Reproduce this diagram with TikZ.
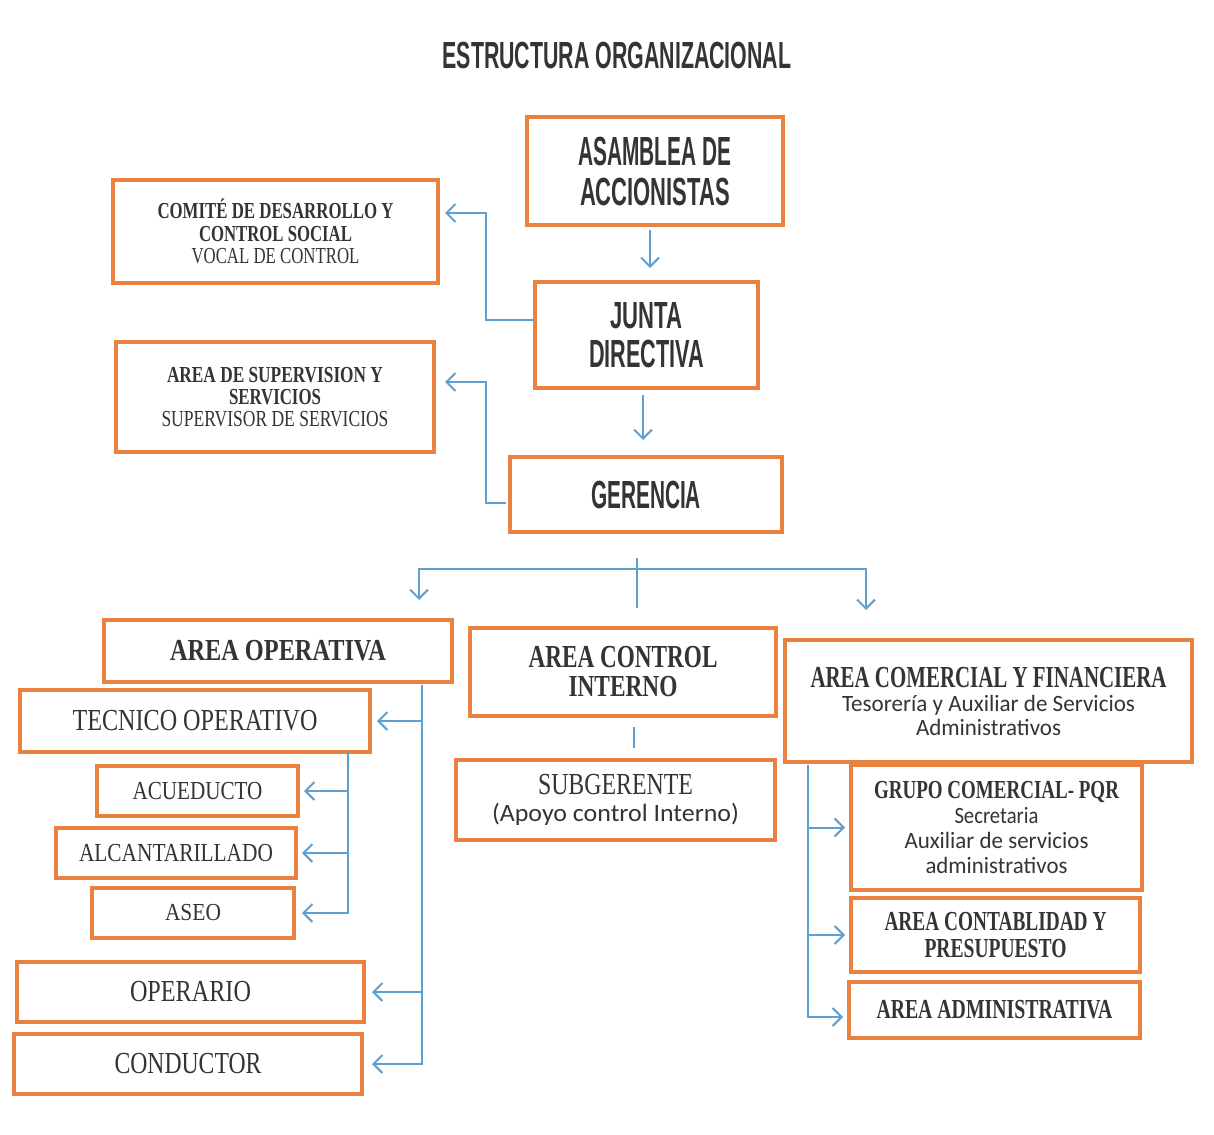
\documentclass[tikz,border=0pt]{standalone}
\usepackage{fontspec}
\usepackage{graphicx}
\setmainfont{Liberation Serif}
\newfontfamily\calfont{Carlito}
\newfontfamily\agencyfont{Liberation Sans}
\usetikzlibrary{arrows.meta,calc}
\definecolor{boxorange}{RGB}{232,130,62}
\definecolor{linkblue}{RGB}{96,160,208}
\definecolor{ink}{RGB}{52,52,52}
% \fitbox[font]{width}{cap height}{text}
\newcommand\fitbox[4][]{%
  \setbox0\hbox{#1#4}\setbox2\hbox{#1H}%
  \pgfmathsetmacro\fbx{#2/\the\wd0}%
  \pgfmathsetmacro\fby{#3/\the\ht2}%
  \scalebox{\fbx}[\fby]{#1#4}}
\begin{document}
\begin{tikzpicture}[x=1pt,y=-1pt,
  box/.style={draw=boxorange, line width=4pt, fill=white, inner sep=0pt, align=center, text=ink},
  headbox/.style={box, font=\agencyfont\bfseries\fontsize{10}{#1}\selectfont},
  serbox/.style={box, font=\fontsize{10}{#1}\selectfont},
  link/.style={draw=linkblue, line width=2pt},
  arr/.style={link, -{Straight Barb[length=9pt,width=18pt]}}]
\useasboundingbox[fill=white] (0,0) rectangle (1214,1134);

\node[text=ink, font=\agencyfont\bfseries] (title) at (617,55) {\fitbox{349}{26}{ESTRUCTURA ORGANIZACIONAL}};

% top levels
\node[headbox=40, minimum width=256pt, minimum height=108pt] (asam) at (655,171)
  {\fitbox{153}{28}{ASAMBLEA DE}\\\fitbox{150}{27}{ACCIONISTAS}};
\node[headbox=39, minimum width=223pt, minimum height=106pt] (junta) at (646.5,335)
  {\fitbox{72}{26}{JUNTA}\\\fitbox{115}{27}{DIRECTIVA}};
\node[headbox=30, minimum width=272pt, minimum height=75pt] (ger) at (646,494.5)
  {\fitbox{110}{27}{GERENCIA}};

% staff boxes
\node[serbox=22.5, minimum width=325pt, minimum height=103pt] (comite) at (275.5,231.5)
  {\fitbox[\bfseries]{236}{15}{COMITÉ DE DESARROLLO Y}\\\fitbox[\bfseries]{153}{15}{CONTROL SOCIAL}\\\fitbox{168}{15}{VOCAL DE CONTROL}};
\node[serbox=22, minimum width=318pt, minimum height=110pt] (superv) at (275,397)
  {\fitbox[\bfseries]{216}{15}{AREA DE SUPERVISION Y}\\\fitbox[\bfseries]{92}{15}{SERVICIOS}\\\fitbox{227}{15}{SUPERVISOR DE SERVICIOS}};

% areas
\node[serbox=24, minimum width=348pt, minimum height=62pt] (aop) at (278,651)
  {\fitbox[\bfseries]{216}{20}{AREA OPERATIVA}};
\node[serbox=29, minimum width=306pt, minimum height=88pt] (aci) at (623,672)
  {\fitbox[\bfseries]{189}{21}{AREA CONTROL}\\\fitbox[\bfseries]{109}{20}{INTERNO}};
\node[serbox=24, minimum width=407pt, minimum height=122pt] (acf) at (988.5,701)
  {\fitbox[\bfseries]{356}{20}{AREA COMERCIAL Y FINANCIERA}\\\fitbox[\calfont]{293}{15}{Tesorería y Auxiliar de Servicios}\\\fitbox[\calfont]{145}{15}{Administrativos}};

% operativa children
\node[serbox=24, minimum width=350pt, minimum height=62pt] (tec) at (195,721) {\fitbox{245}{20}{TECNICO OPERATIVO}};
\node[serbox=24, minimum width=201pt, minimum height=50pt] (acu) at (197.5,791) {\fitbox{130}{17}{ACUEDUCTO}};
\node[serbox=24, minimum width=240pt, minimum height=50pt] (alc) at (176,853) {\fitbox{194}{17}{ALCANTARILLADO}};
\node[serbox=24, minimum width=202pt, minimum height=50pt] (aseo) at (193,913) {\fitbox{56}{16}{ASEO}};
\node[serbox=24, minimum width=347pt, minimum height=60pt] (oper) at (190.5,992) {\fitbox{121}{20}{OPERARIO}};
\node[serbox=24, minimum width=348pt, minimum height=60pt] (cond) at (188,1064) {\fitbox{147}{20}{CONDUCTOR}};

% control interno child
\node[serbox=27, minimum width=319pt, minimum height=80pt] (sub) at (615.5,800)
  {\fitbox{155}{20}{SUBGERENTE}\\\fitbox[\calfont]{247}{16}{(Apoyo control Interno)}};

% comercial children
\node[serbox=25, minimum width=291pt, minimum height=125pt] (gcom) at (996.5,827.5)
  {\fitbox[\bfseries]{245}{17}{GRUPO COMERCIAL- PQR}\\\fitbox[\calfont]{84}{15}{Secretaria}\\\fitbox[\calfont]{184}{15}{Auxiliar de servicios}\\\fitbox[\calfont]{142}{15}{administrativos}};
\node[serbox=27, minimum width=289pt, minimum height=74pt] (acon) at (995.5,935)
  {\fitbox[\bfseries]{222}{18}{AREA CONTABLIDAD Y}\\\fitbox[\bfseries]{142}{18}{PRESUPUESTO}};
\node[serbox=24, minimum width=291pt, minimum height=56pt] (aadm) at (994.5,1010)
  {\fitbox[\bfseries]{236}{18}{AREA ADMINISTRATIVA}};

% connectors: top chain
\draw[arr] ($(asam.south)+(-5,3)$) -- ($(asam.south |- junta.north)+(-5,-12)$);
\draw[arr] ($(junta.south)+(-3.5,5)$) -- ($(junta.south |- ger.north)+(-3.5,-15)$);
\draw[arr] ($(junta.west)+(0,-15)$) -- ++(-47,0) |- ($(comite.east)+(5,-18.5)$);
\draw[arr] ($(ger.west)+(-2,8.5)$) -- ++(-20,0) |- ($(superv.east)+(9,-15)$);

% distribution under gerencia
\coordinate (hub) at (637,569);
\coordinate (hubtop) at (637,558);
\coordinate (hubbot) at (637,608);
\coordinate (opdrop) at (419,600);
\coordinate (cfdrop) at (866,610);
\draw[link] (hubtop) -- (hubbot);
\draw[arr] (hub) -| (opdrop);
\draw[arr] (hub) -| (cfdrop);

% control interno -> subgerente
\draw[link] ($(aci.south)+(11,9)$) -- ($(aci.south |- sub.north)+(11,-10)$);

% operativa tree
\coordinate (optop) at (422,685);
\coordinate (inntop) at (348,752);
\draw[arr, shorten >=8pt] (optop) |- (cond.east);
\draw[arr, shorten >=5pt] (optop |- tec.east) -- (tec.east);
\draw[arr, shorten >=6pt] (optop |- oper.east) -- (oper.east);
\draw[arr, shorten >=6pt] (inntop) |- (aseo.east);
\draw[arr, shorten >=4pt] (inntop |- acu.east) -- (acu.east);
\draw[arr, shorten >=4pt] (inntop |- alc.east) -- (alc.east);

% comercial tree
\coordinate (cftop) at (808,765);
\draw[arr, shorten >=4pt] (cftop) |- ($(aadm.west)+(0,7)$);
\draw[arr, shorten >=4pt] (cftop |- gcom.west) -- (gcom.west);
\draw[arr, shorten >=4pt] (cftop |- acon.west) -- (acon.west);
\end{tikzpicture}
\end{document}
